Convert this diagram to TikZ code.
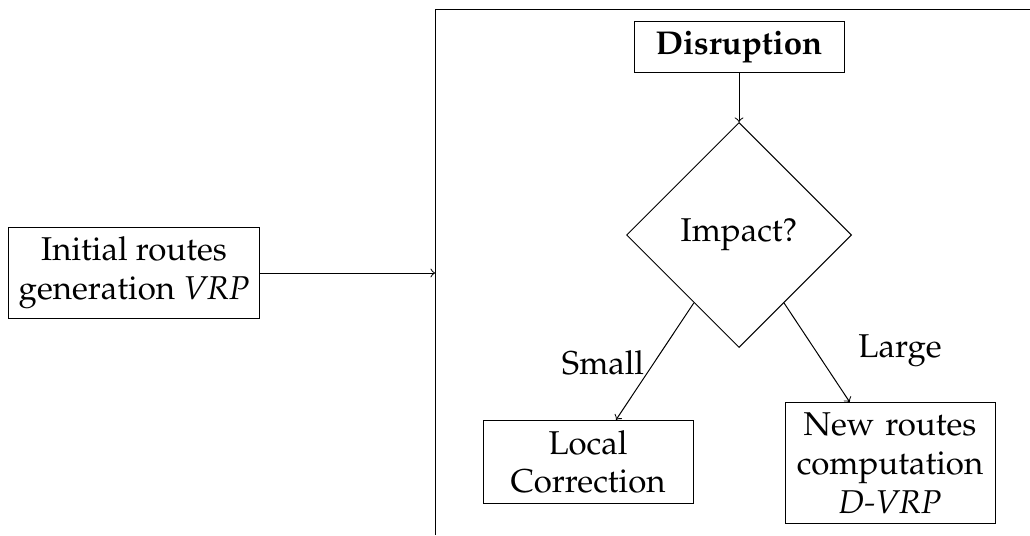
\documentclass[tikz,border=0pt,12pt]{standalone}
\usepackage[T1]{fontenc}
\usepackage{mathpazo}
\usepackage{tikz}
\usetikzlibrary{shapes.geometric}

\tikzset{
    every node/.style={font=\fontsize{13.2}{15.5}\selectfont},
    stepbox/.style={draw, rectangle, align=center, text width=75pt, minimum width=84pt},
    decision/.style={draw, diamond, aspect=1, minimum width=90pt, minimum height=90pt, inner sep=0pt},
}

\begin{document}
\begin{tikzpicture}[x=0.4pt, y=0.4pt]
            \useasboundingbox (0,0) rectangle (1030,535);

            % Cornice
            \draw (435,0) -- (435,526) -- (1030,526);
            \coordinate (entry) at (435,262);

            % Nodi
            \node[draw, align=center, minimum width=99pt] (init) at (134,262) {Initial routes\\ generation \textit{VRP}};
            \node[stepbox, minimum height=20.4pt] (disruption) at (739,488) {\textbf{Disruption}};
            \node[decision] (impact) at (739,300) {Impact?};
            \node[stepbox] (local) at (588,73) {Local Correction};
            \node[stepbox] (newroutes) at (890,72) {New routes computation \textit{D-VRP}};

            % Frecce
            \draw[->] (init.east) -- (entry);
            \draw[->] (disruption) -- (impact);
            \draw[->] (impact) -- (local);
            \draw[->] (impact) -- (newroutes);

            % Etichette
            \node (small) at (603,172) {Small};
            \node (large) at (900,184) {Large};
        \end{tikzpicture}
\end{document}
